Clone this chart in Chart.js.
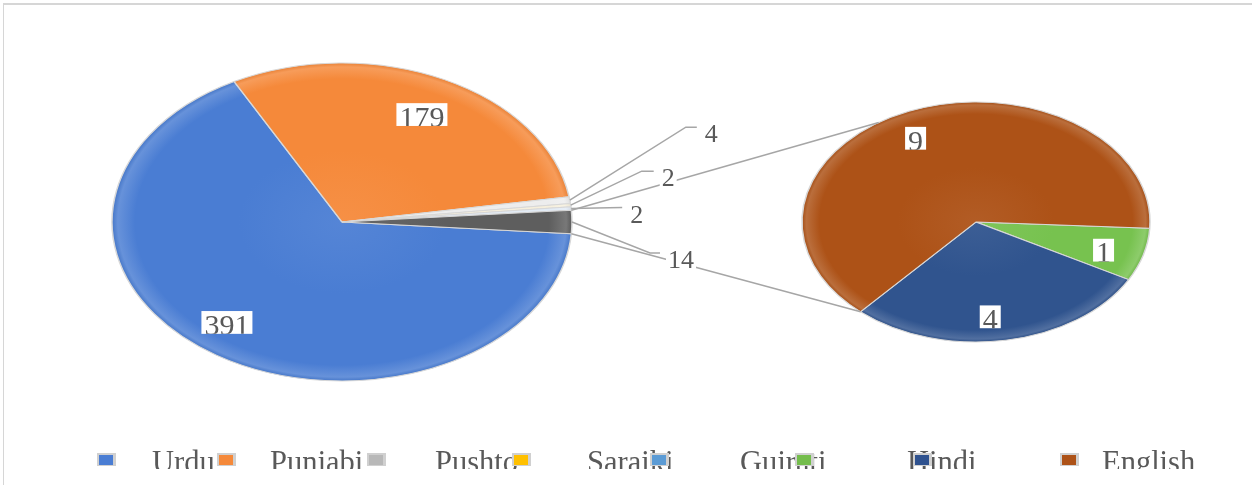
<!DOCTYPE html>
<html>
<head>
<meta charset="utf-8">
<script src="https://cdn.jsdelivr.net/npm/chart.js@4.4.1/dist/chart.umd.min.js"></script>
<style>
html,body{margin:0;padding:0;background:#fff;}
#wrap{position:relative;width:1252px;height:485px;overflow:hidden;background:#fff;}
#frame{position:absolute;left:3px;top:3px;width:1300px;height:600px;border-top:2px solid #d6d6d6;border-left:1px solid #d6d6d6;}
canvas{position:absolute;left:0;top:0;}
</style>
</head>
<body>
<div id="wrap"><div id="frame"></div><canvas id="c" width="1252" height="485"></canvas></div>
<script>
// ---- data ----
const categories = ['Urdu', 'Punjabi', 'Pushto', 'Saraiki', 'Gujrati', 'Hindi', '', 'English'];
const values = [391, 179, 4, 2, 2, 1, 4, 9];
const secondPieFrom = 5;            // categories from this index are split into the second pie
const legendColors = ['#4a7dd3', '#f5893a', '#b8b8b8', '#ffc000', '#5b9bd5', '#74bd4c', '#2f528f', '#ad5217'];
const mainSliceColors = ['#4a7dd3', '#f5893a', '#ededed', '#f6efdc', '#e2ebf5', '#5e5e5e'];
const secondSliceColors = ['#77c24f', '#30548e', '#ad5217'];

const otherValue = values.slice(secondPieFrom).reduce((a, b) => a + b, 0);
const mainValues = values.slice(0, secondPieFrom).concat([otherValue]);
const secondValues = values.slice(secondPieFrom);

// ---- layout / style ----
const FONT = "'Liberation Serif','Times New Roman',serif";
const TEXT = '#595959';
const geo = [
  {cx: 342, cy: 222, rx: 230, ry: 159},
  {cx: 976, cy: 222, rx: 174, ry: 120}
];
const mainTotal = mainValues.reduce((a, b) => a + b, 0);
const mainRotation = 90 - ((mainTotal - otherValue / 2) / mainTotal) * 360 + 360;
const secondRotation = 93;

const insideNudge = [[[-17, -1], [0, 6]], [[-3, 5], [-9, 5], [-8, 5]]];
const outsideLeader = {2: [116, -73, 11], 3: [71, -34, 12], 4: [51, -1, 0], 5: [78, 31, 10]};
const legendMarkerX = [97, 217, 367, 512, 650, 795, 913, 1060];
const legendTextX = [152, 270, 435, 587, 740, 907, null, 1102];

function pt(g, a, k) {
  k = k === undefined ? 1 : k;
  return [g.cx + k * g.rx * Math.cos(a), g.cy + k * g.ry * Math.sin(a)];
}
function shade(hex, amt) {
  const n = parseInt(hex.slice(1), 16);
  const r = n >> 16, g = (n >> 8) & 255, b = n & 255;
  const f = c => Math.round(amt >= 0 ? c + (255 - c) * amt : c * (1 + amt));
  return 'rgb(' + f(r) + ',' + f(g) + ',' + f(b) + ')';
}
const gradCache = {};
function bevel(colors) {
  return function (c) {
    if (c.dataIndex === undefined || c.datasetIndex === undefined) return colors[0];
    const g = geo[c.datasetIndex];
    const base = colors[c.dataIndex];
    if (!base) return colors[0];
    const key = c.datasetIndex + base;
    if (!gradCache[key]) {
      const gr = c.chart.ctx.createRadialGradient(g.cx, g.cy, 0, g.cx, g.cy, g.rx);
      gr.addColorStop(0, shade(base, 0.06));
      gr.addColorStop(0.45, base);
      gr.addColorStop(0.9, base);
      gr.addColorStop(0.975, shade(base, 0.16));
      gr.addColorStop(1, shade(base, -0.05));
      gradCache[key] = gr;
    }
    return gradCache[key];
  };
}

function boxLabel(ctx, text, cx, cy, size) {
  ctx.save();
  ctx.font = size + 'px ' + FONT;
  const w = ctx.measureText(text).width;
  const top = cy - size * 0.46, bottom = cy + size * 0.3;
  const x0 = cx - w / 2 - 3, x1 = cx + w / 2 + 3;
  ctx.fillStyle = '#ffffff';
  ctx.fillRect(x0, top, x1 - x0, bottom - top);
  ctx.beginPath();
  ctx.rect(x0, top, x1 - x0, bottom - top);
  ctx.clip();
  ctx.fillStyle = TEXT;
  ctx.textAlign = 'center';
  ctx.textBaseline = 'alphabetic';
  ctx.fillText(text, cx, cy + size * 0.33);
  ctx.restore();
}

const pieOfPie = {
  id: 'pieOfPie',
  afterDatasetsUpdate(chart) {
    chart.data.datasets.forEach((d, i) => {
      const g = geo[i];
      chart.getDatasetMeta(i).data.forEach(el => {
        el.x = g.cx; el.y = g.cy; el.outerRadius = g.rx; el.innerRadius = 0;
      });
    });
  },
  beforeDatasetDraw(chart, args) {
    const g = geo[args.index];
    const ctx = chart.ctx;
    ctx.save();
    ctx.translate(g.cx, g.cy);
    ctx.scale(1, g.ry / g.rx);
    ctx.translate(-g.cx, -g.cy);
  },
  afterDatasetDraw(chart) {
    chart.ctx.restore();
  },
  afterDraw(chart) {
    const ctx = chart.ctx;
    const m0 = chart.getDatasetMeta(0).data;
    const m1 = chart.getDatasetMeta(1).data;
    ctx.save();
    ctx.strokeStyle = '#a6a6a6';
    ctx.lineWidth = 1.5;

    const other = m0[m0.length - 1];
    const p1 = pt(geo[0], other.startAngle), p2 = pt(geo[0], other.endAngle);
    const q1 = pt(geo[1], 236 * Math.PI / 180), q2 = pt(geo[1], m1[m1.length - 1].startAngle);
    ctx.beginPath(); ctx.moveTo(p1[0], p1[1]); ctx.lineTo(q1[0], q1[1]); ctx.stroke();
    ctx.beginPath(); ctx.moveTo(p2[0], p2[1]); ctx.lineTo(q2[0], q2[1]); ctx.stroke();

    const outside = [];
    Object.keys(outsideLeader).forEach(k => {
      const i = +k, el = m0[i], L = outsideLeader[k];
      const mid = (el.startAngle + el.endAngle) / 2;
      const e = pt(geo[0], mid);
      const b = [e[0] + L[0], e[1] + L[1]];
      const end = [b[0] + L[2], b[1]];
      ctx.beginPath(); ctx.moveTo(e[0], e[1]); ctx.lineTo(b[0], b[1]); ctx.lineTo(end[0], end[1]); ctx.stroke();
      outside.push([String(mainValues[i]), end[0], end[1]]);
    });
    ctx.restore();

    outside.forEach(o => {
      ctx.save();
      ctx.font = '26px ' + FONT;
      const w = ctx.measureText(o[0]).width;
      const x = o[1] + 8;
      ctx.fillStyle = '#fff';
      ctx.fillRect(x - 2, o[2] - 4, w + 4, 20);
      ctx.beginPath(); ctx.rect(x - 2, o[2] - 4, w + 4, 20); ctx.clip();
      ctx.fillStyle = TEXT;
      ctx.textBaseline = 'alphabetic';
      ctx.fillText(o[0], x, o[2] + 15);
      ctx.restore();
    });

    [[0, [0, 1], mainValues], [1, [0, 1, 2], secondValues]].forEach(([di, idx, vals]) => {
      const meta = chart.getDatasetMeta(di).data;
      idx.forEach((i, n) => {
        const el = meta[i];
        const mid = (el.startAngle + el.endAngle) / 2;
        const p = pt(geo[di], mid, 0.78);
        const nd = insideNudge[di][n];
        boxLabel(ctx, String(vals[i]), p[0] + nd[0], p[1] + nd[1], 30);
      });
    });

    ctx.save();
    ctx.font = '30.5px ' + FONT;
    ctx.fillStyle = TEXT;
    ctx.textBaseline = 'alphabetic';
    ctx.beginPath(); ctx.rect(0, 440, 1252, 29); ctx.clip();
    categories.forEach((c, i) => {
      if (legendTextX[i] !== null && c) ctx.fillText(c, legendTextX[i], 472);
    });
    ctx.restore();
    categories.forEach((c, i) => {
      const x = legendMarkerX[i];
      ctx.fillStyle = '#d0d0d0';
      ctx.fillRect(x, 453, 19, 13);
      ctx.fillStyle = legendColors[i];
      ctx.fillRect(x + 2, 455, 14, 10);
    });
  }
};

new Chart(document.getElementById('c'), {
  type: 'pie',
  data: {
    labels: categories,
    datasets: [
      {data: mainValues, backgroundColor: bevel(mainSliceColors), borderColor: '#d8d8d8', borderWidth: 1.5,
       rotation: mainRotation, clip: false},
      {data: secondValues, backgroundColor: bevel(secondSliceColors), borderColor: '#d8d8d8', borderWidth: 1.5,
       rotation: secondRotation, clip: false}
    ]
  },
  options: {
    responsive: false,
    animation: false,
    events: [],
    layout: {padding: 0},
    plugins: {legend: {display: false}, tooltip: {enabled: false}}
  },
  plugins: [pieOfPie]
});
</script>
</body>
</html>
